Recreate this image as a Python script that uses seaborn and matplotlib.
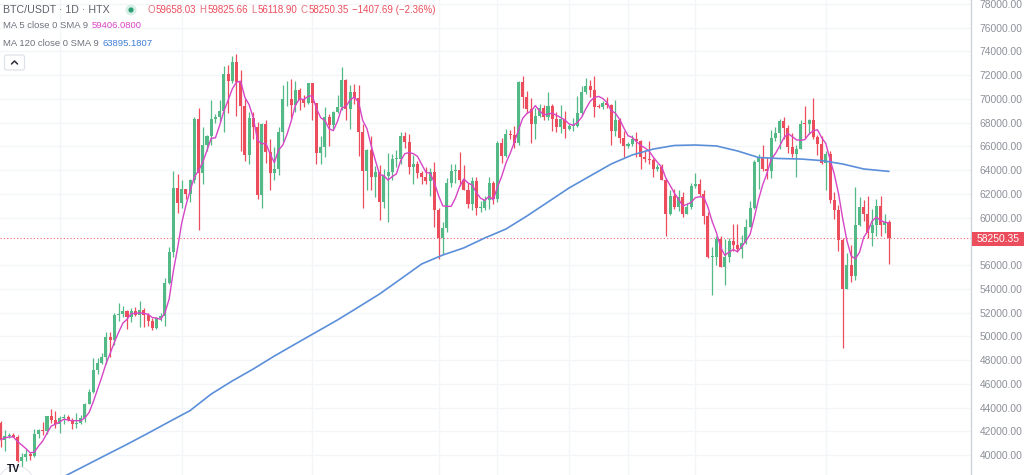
import numpy as np
import pandas as pd
import matplotlib
matplotlib.use("Agg")
import matplotlib.pyplot as plt
import seaborn as sns
from matplotlib.patches import FancyBboxPatch, Circle, Rectangle
from matplotlib.lines import Line2D
from matplotlib.ticker import FormatStrFormatter
from matplotlib.transforms import IdentityTransform

# ---------------- data (daily candles, BTC/USDT, HTX) ----------------
first_open = 42740.0
closes = [
    # Jan 18-31
    41280, 41620, 41660, 41560, 39530, 39850, 40080, 39930, 41810, 42120, 42030, 43300, 42950, 42580,
    # Feb
    43080, 43180, 42990, 42580, 42660, 43080, 44330, 45290, 47130, 47750, 48290, 49960, 49700, 51800,
    51910, 52130, 51660, 52120, 51780, 52260, 51840, 51300, 50730, 51570, 51730, 54520, 57080, 62500, 61200,
    # Mar
    62440, 62030, 63170, 68330, 63800, 66100, 66900, 68300, 68500, 69020, 72100, 71480, 73080, 71400,
    69400, 65300, 68400, 67600, 61900, 67900, 65500, 63800, 64100, 67200, 69960, 69990, 69450, 70780,
    69890, 69650, 71330,
    # Apr
    69700, 65450, 65970, 68500, 67830, 68900, 69360, 71620, 69140, 70600, 70060, 67200, 63900, 65740,
    63420, 63810, 61280, 63470, 63820, 64940, 64940, 66840, 66410, 64280, 64500, 63770, 63460, 63120,
    63840, 60640,
    # May
    58250, 59120, 62890, 63890, 64030, 63160, 62330, 61190, 63050, 60790, 60800, 61460, 62900, 61550,
    66250, 65230, 67050, 66940, 66280, 71450, 70140, 69120, 67930, 68530, 69260, 68500, 69390, 68340,
    67600, 68350, 67490,
    # Jun
    67710, 67750, 68800, 70550, 71100, 70790, 69340, 69300, 69650, 69500, 67320, 68240, 66750, 66010,
    66190, 66640, 66490, 65140, 64960, 64830, 64100, 64250, 63180, 60280, 61800, 60860, 61700, 60320,
    60890, 62680,
    # Jul
    62850, 62030, 60170, 56660, 56660, 58230, 55850, 56700, 58050, 57720, 57350, 57890, 59200, 60800,
    64700, 65040, 64090, 63970, 66700, 67150, 68160, 67560, 65930, 65370, 65780, 67910, 67880, 68250,
    66780, 66190, 64620,
    # Aug
    65350, 61500, 60680, 58100, 53990, 56030, 55120, 59400, 60880, 60300, 58710, 59350, 61000, 59400,
    59658.03, 58250.35,
]
highs = [
    42900, 42150, 41870, 41880, 41650, 40130, 40520, 40280, 42200, 42200, 42800, 43300, 43880, 43750,
    43260, 43480, 43380, 43120, 43500, 43360, 44380, 45600, 48190, 48150, 48560, 50330, 50350, 52000,
    52820, 52570, 52180, 52350, 52500, 52950, 52350, 52000, 51550, 51670, 51950, 54900, 57550, 63900, 63650,
    63150, 62450, 63250, 68500, 69200, 67650, 67000, 69950, 68700, 69900, 72800, 72900, 73650, 73750,
    72400, 70000, 68900, 68900, 68100, 68000, 68200, 66600, 65950, 67600, 71150, 71500, 71700, 71500,
    70900, 70300, 71350,
    71350, 69700, 66900, 69300, 68750, 69000, 70300, 72700, 71700, 71200, 71250, 71200, 67900, 65800,
    66850, 64350, 64450, 64100, 65450, 65350, 65700, 67200, 67200, 67050, 65300, 64800, 63900, 64300,
    64200, 64700,
    60800, 59600, 63300, 64500, 64500, 65500, 64400, 62900, 63400, 63450, 61400, 61800, 63450, 63100,
    66450, 66700, 67450, 67400, 67700, 71500, 71950, 70650, 70100, 69200, 69550, 69500, 70600, 69550,
    68900, 69500, 69000,
    67850, 68400, 70250, 71050, 71750, 71600, 71950, 69550, 69850, 70150, 69550, 69950, 68400, 67300,
    66400, 66950, 67200, 66500, 65700, 66450, 65050, 64500, 64500, 63350, 62300, 62450, 62300, 62200,
    61200, 62900,
    63800, 63250, 62300, 60500, 57500, 58450, 58450, 58200, 58300, 59450, 59450, 58550, 59850, 61400,
    64850, 65350, 66100, 65100, 67400, 67600, 68350, 68450, 67800, 67100, 66150, 68200, 69400, 68300,
    70050, 66950, 66850,
    65600, 65600, 62200, 61100, 58300, 57050, 57700, 62600, 61750, 61450, 61850, 60700, 61550, 61800,
    60300, 59825.66,
]
lows = [
    40680, 40300, 41450, 41500, 39430, 38500, 39500, 39540, 39830, 41400, 41650, 41800, 42700, 42300,
    41880, 42580, 42880, 42220, 42260, 42580, 42780, 44330, 45260, 46850, 47700, 47700, 48300, 49300,
    51300, 51600, 50640, 51200, 51700, 50800, 50800, 50900, 50540, 50620, 51300, 50900, 54450, 56700, 60400,
    60800, 61600, 61300, 62900, 59000, 62850, 65600, 66100, 68000, 68100, 67200, 68800, 71350, 68600,
    65600, 64800, 64550, 66600, 61550, 60800, 64600, 62300, 63150, 63600, 66400, 69400, 68400, 68900,
    69100, 69300, 69600,
    68250, 64500, 64500, 65100, 66000, 67450, 68800, 69100, 68250, 67500, 69600, 65200, 60800, 62300,
    62300, 61700, 59800, 60800, 59650, 63200, 64300, 64550, 65900, 63650, 62800, 63350, 62800, 62800,
    61800, 59200,
    56550, 56950, 58800, 62600, 62900, 62700, 62300, 60800, 60650, 60200, 60500, 60650, 60750, 61150,
    61350, 64600, 65100, 66650, 65850, 66100, 69200, 68850, 66300, 66600, 68500, 68200, 68250, 67300,
    67200, 67150, 66700,
    67400, 67300, 67600, 68600, 70400, 70150, 68500, 69200, 69150, 69250, 66100, 66900, 66300, 65100,
    65900, 66050, 65100, 64100, 64700, 64550, 63400, 63950, 63150, 58450, 60250, 60700, 60600, 60050,
    60300, 60700,
    62500, 61800, 59500, 56600, 53500, 56050, 55800, 54300, 56300, 57200, 57100, 56600, 57800, 59300,
    60700, 62400, 63900, 63250, 63300, 66450, 65800, 66600, 65450, 65100, 63450, 65750, 66700, 67050,
    66600, 65300, 64550,
    62300, 61200, 59850, 57200, 49000, 54000, 54600, 54750, 59300, 59700, 58300, 57650, 58450, 58450,
    58700, 56118.90,
]
# 120-day moving average (value at candle number)
ma120_days = [5, 10, 15, 20, 25, 30, 35, 40, 45, 50, 55, 60, 65, 70, 75, 80, 85, 90, 95, 100, 105,
              110, 115, 120, 125, 130, 135, 140, 145, 150, 155, 160, 165, 170, 175, 180, 185, 190,
              195, 200, 205, 211]
ma120_vals = [36380, 37310, 38180, 39090, 40000, 40900, 41840, 42800, 43750, 45140, 46240, 47250,
              48340, 49360, 50370, 51380, 52470, 53570, 54830, 56100, 56850, 57450, 58290, 59040,
              60140, 61320, 62500, 63510, 64520, 65280, 65780, 66080, 66120, 66040, 65620, 65070,
              64980, 64940, 64810, 64520, 64100, 63895.18]
grid_days = [14, 43, 74, 104, 118, 135, 149, 165, 196]
price_ticks = [t for t in range(40000, 78001, 2000) if t != 58000]
last_price = 58250.35
header = "BTC/USDT · 1D · HTX"
ohlc_parts = [("O", "59658.03"), ("H", "59825.66"), ("L", "56118.90"), ("C", "58250.35")]
change_txt = "−1407.69 (−2.36%)"
ma5_label, ma5_value = "MA 5 close 0 SMA 9", "59406.0800"
ma120_label, ma120_value = "MA 120 close 0 SMA 9", "63895.1807"

# ---------------- style ----------------
W, H = 1024, 475
UP, DOWN = "#53b987", "#eb4d5c"
MA5C, MA120C = "#d645c6", "#5b8fd9"
TXT = "#6f727c"

sns.set_theme(style="white")
plt.rcParams['font.family'] = ['Liberation Sans', 'DejaVu Sans']

fig = plt.figure(figsize=(W / 100, H / 100), dpi=100)
fig.patch.set_facecolor("white")
ax = fig.add_axes([0, 0, 971 / W, 1])
ax.set_facecolor("white")

closes_a = np.array(closes, dtype=float)
highs_a = np.array(highs, dtype=float)
lows_a = np.array(lows, dtype=float)
n = len(closes_a)
idx = np.arange(n)
opens_a = np.r_[first_open, closes_a[:-1]]
highs_a = np.maximum(highs_a, np.maximum(opens_a, closes_a))
lows_a = np.minimum(lows_a, np.minimum(opens_a, closes_a))
up = closes_a >= opens_a
cols = np.where(up, UP, DOWN)

# grid
for g in grid_days:
    ax.axvline(g, color="#f3f5f9", lw=1.0, zorder=0)
for t in price_ticks:
    ax.axhline(t, color="#f3f5f9", lw=1.0, zorder=0)

ax.vlines(idx, lows_a, highs_a, colors=cols, lw=0.9, zorder=2)
body_lo = np.minimum(opens_a, closes_a)
body_h = np.maximum(np.abs(closes_a - opens_a), 70)
ax.bar(idx, body_h, bottom=body_lo, width=0.72, color=cols, linewidth=0, zorder=3)

ma5 = pd.Series(closes_a).rolling(5, min_periods=1).mean()
sns.lineplot(x=idx, y=ma5.values, ax=ax, color=MA5C, lw=1.0, zorder=4)
sns.lineplot(x=ma120_days, y=ma120_vals, ax=ax, color=MA120C, lw=1.2, zorder=4)

ax.axhline(last_price, color=DOWN, lw=0.8, ls=(0, (1, 2)), alpha=0.85, zorder=1)

ax.set_xlim(-0.7 / 4.21, (971 - 0.7) / 4.21)
ax.set_ylim(38318, 78337)
ax.set_xticks([])
ax.set_yticks(price_ticks)
ax.yaxis.set_major_formatter(FormatStrFormatter("%.2f"))
ax.yaxis.tick_right()
ax.tick_params(axis="y", length=0, pad=6, labelsize=7.4, labelcolor="#8d9099")
for s in ["top", "left", "bottom"]:
    ax.spines[s].set_visible(False)
ax.spines["right"].set_color("#cfd2d8")
ax.spines["right"].set_linewidth(1.0)
ax.set_xlabel("")
ax.set_ylabel("")
ax.grid(False)

ident = IdentityTransform()


def px(x, y):
    return (x, H - y)


# last price tag
fig.add_artist(Rectangle(px(972, 246), 52, 14, transform=ident, facecolor=DOWN, edgecolor="none", zorder=10))
fig.text(1020 / W, 1 - 239 / H, f"{last_price:.2f}", color="white", fontsize=7.4, ha="right", va="center", zorder=11)

renderer = fig.canvas.get_renderer()


def write(x, y, segs, size):
    for txt, col, gap in segs:
        t = fig.text(x / W, 1 - y / H, txt, color=col, fontsize=size, ha="left", va="center")
        x += t.get_window_extent(renderer).width + gap
    return x


write(3, 10, [(header, "#5f626c", 0)], 7.7)
fig.add_artist(Circle(px(131, 10), 5.5, transform=ident, facecolor="#d7efe6", edgecolor="none"))
fig.add_artist(Circle(px(131, 10), 2.6, transform=ident, facecolor="#2e9e74", edgecolor="none"))
segs = []
for letter, val in ohlc_parts:
    segs.append((letter, "#e3737d", 1.2))
    segs.append((val, DOWN, 3.0))
segs.append((change_txt, DOWN, 0))
write(147, 10, segs, 7.0)
write(3, 26, [(ma5_label, TXT, 4), (ma5_value, MA5C, 0)], 6.8)
write(3, 44, [(ma120_label, TXT, 4), (ma120_value, "#3f7fd6", 0)], 6.8)

# collapse button
fig.add_artist(FancyBboxPatch(px(4.5, 70), 20, 15, boxstyle="round,pad=0,rounding_size=2",
                              transform=ident, facecolor="white", edgecolor="#dfe2e8", lw=0.9))
fig.add_artist(Line2D([11.5, 14.5, 17.5], [H - 64, H - 61, H - 64], transform=ident, color="#2a2e39", lw=1.1))

# logo corner
fig.add_artist(Circle(px(16, 484), 18, transform=ident, facecolor="white", edgecolor="#e6e8ee", lw=0.8, zorder=9))
fig.text(7 / W, 1 - 474 / H, "TV", color="#131722", fontsize=7.5, fontweight="bold", ha="left", va="bottom", zorder=10)

fig.savefig("out.png", dpi=100, facecolor="white")
